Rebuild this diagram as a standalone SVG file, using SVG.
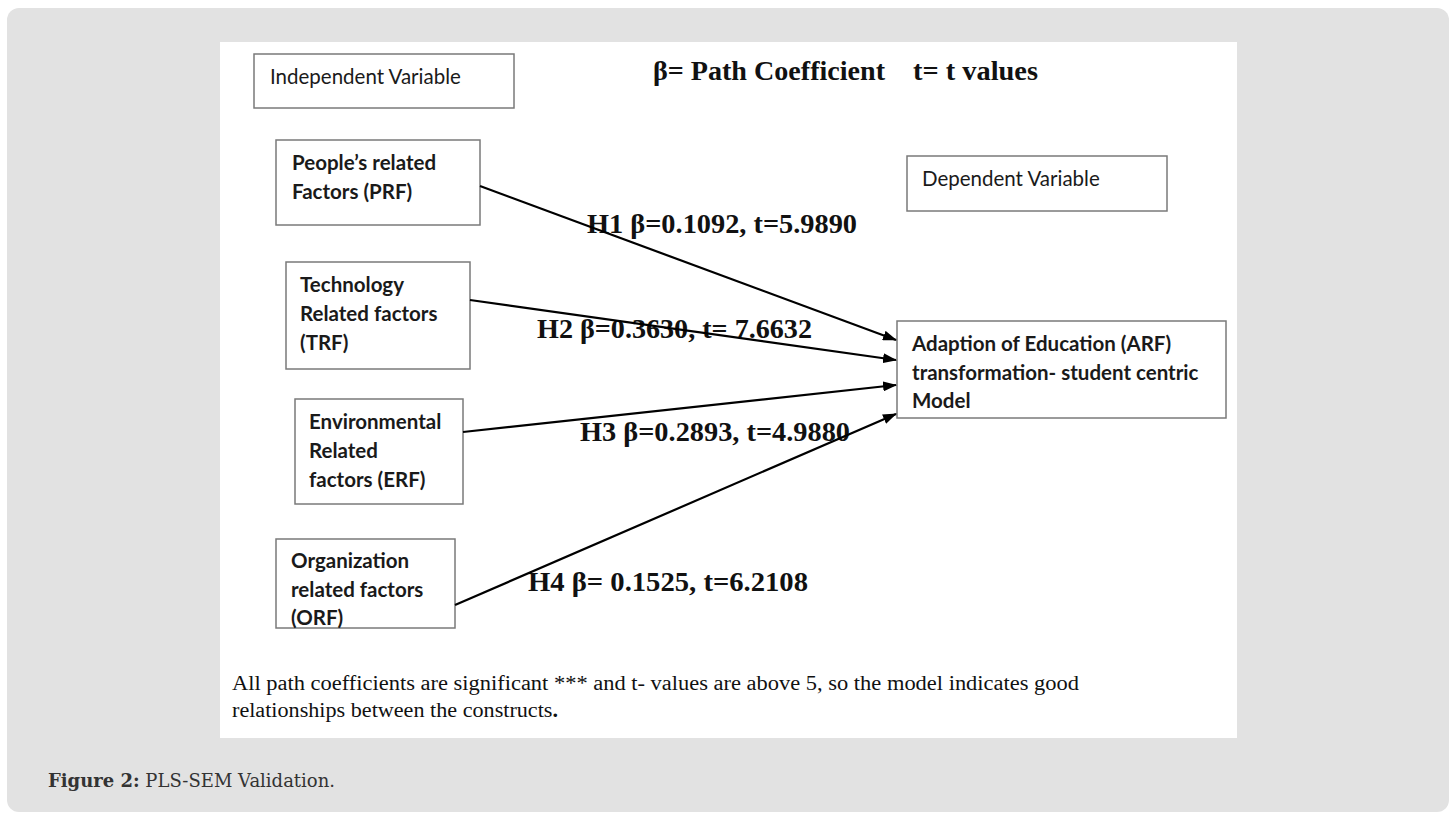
<svg xmlns="http://www.w3.org/2000/svg" width="1455" height="813" viewBox="0 0 1455 813">
<defs>
<marker id="ah" markerWidth="14" markerHeight="10" refX="13" refY="5" orient="auto" markerUnits="userSpaceOnUse">
<path d="M0,0 L14,5 L0,10 Z" fill="#000"/>
</marker>
<style>
.box{fill:#fff;stroke:#7a7a7a;stroke-width:1.5}
.sans{font-family:Lato,"Open Sans","Liberation Sans",sans-serif;font-size:20.5px;fill:#1a1a1a}
.b{font-weight:bold}
.lab{font-family:"Liberation Serif","Times New Roman",serif;font-weight:bold;font-size:27px;fill:#111}
.note{font-family:"Liberation Serif","Times New Roman",serif;font-size:20px;fill:#111}
.edge{stroke:#000;stroke-width:2.2;fill:none;marker-end:url(#ah)}
</style>
</defs>
<rect x="7" y="8" width="1442" height="804" rx="12" fill="#e2e2e2"/>
<rect x="220" y="42" width="1017" height="696" fill="#fff"/>

<g id="independent-label">
<rect class="box" x="254" y="54" width="260" height="54"/>
<text class="sans" x="270" y="84">Independent Variable</text>
</g>
<g id="title">
<text class="lab" x="653" y="80" textLength="232" lengthAdjust="spacingAndGlyphs">β= Path Coefficient</text>
<text class="lab" x="913" y="80" textLength="125" lengthAdjust="spacingAndGlyphs">t= t values</text>
</g>
<g id="dependent-label">
<rect class="box" x="907" y="156" width="260" height="55"/>
<text class="sans" x="922" y="186">Dependent Variable</text>
</g>
<g id="PRF">
<rect class="box" x="276" y="140" width="204" height="85"/>
<text class="sans b" x="292" y="170">People’s related</text>
<text class="sans b" x="292" y="199">Factors (PRF)</text>
</g>
<g id="TRF">
<rect class="box" x="286" y="262" width="184" height="107"/>
<text class="sans b" x="300" y="292">Technology</text>
<text class="sans b" x="300" y="321">Related factors</text>
<text class="sans b" x="300" y="350">(TRF)</text>
</g>
<g id="ERF">
<rect class="box" x="295" y="399" width="168" height="105"/>
<text class="sans b" x="309" y="429">Environmental</text>
<text class="sans b" x="309" y="458">Related</text>
<text class="sans b" x="309" y="487">factors (ERF)</text>
</g>
<g id="ORF">
<rect class="box" x="276" y="539" width="179" height="89"/>
<text class="sans b" x="291" y="568">Organization</text>
<text class="sans b" x="291" y="597">related factors</text>
<text class="sans b" x="291" y="625">(ORF)</text>
</g>
<g id="ARF">
<rect class="box" x="897" y="321" width="329" height="97"/>
<text class="sans b" x="912" y="351">Adaption of Education (ARF)</text>
<text class="sans b" x="912" y="380">transformation- student centric</text>
<text class="sans b" x="912" y="408">Model</text>
</g>

<g id="edge-labels">
<text class="lab" x="587" y="233" textLength="270" lengthAdjust="spacingAndGlyphs">H1 β=0.1092, t=5.9890</text>
<text class="lab" x="537" y="338" textLength="275" lengthAdjust="spacingAndGlyphs">H2 β=0.3630, t= 7.6632</text>
<text class="lab" x="580" y="441" textLength="270" lengthAdjust="spacingAndGlyphs">H3 β=0.2893, t=4.9880</text>
<text class="lab" x="528" y="591" textLength="280" lengthAdjust="spacingAndGlyphs">H4 β= 0.1525, t=6.2108</text>
</g>

<g id="connectors">
<line class="edge" x1="480" y1="186" x2="896" y2="340"/>
<line class="edge" x1="470" y1="300" x2="896" y2="360"/>
<line class="edge" x1="463" y1="432" x2="896" y2="385"/>
<line class="edge" x1="455" y1="605" x2="896" y2="414"/>
</g>

<g id="footnote">
<text class="note" x="232" y="690" textLength="847" lengthAdjust="spacingAndGlyphs">All path coefficients are significant *** and t- values are above 5, so the model indicates good</text>
<text class="note" x="232" y="717" textLength="326" lengthAdjust="spacingAndGlyphs">relationships between the constructs<tspan font-weight="bold">.</tspan></text>
</g>
<g id="caption">
<text x="48" y="787" font-family="'DejaVu Serif','Liberation Serif',serif" font-size="18.5px" fill="#333" textLength="287" lengthAdjust="spacingAndGlyphs"><tspan font-weight="bold">Figure 2:</tspan> PLS-SEM Validation.</text>
</g>
</svg>
